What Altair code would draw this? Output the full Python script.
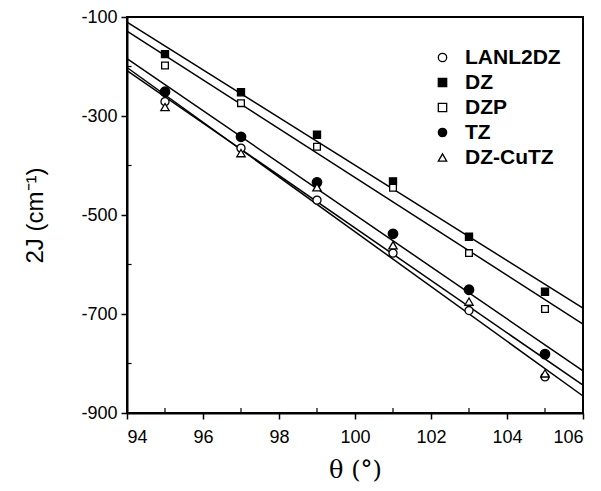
import altair as alt
import pandas as pd

theta = [95, 97, 99, 101, 103, 105]
series_names = ["LANL2DZ", "DZ", "DZP", "TZ", "DZ-CuTZ"]
lanl2dz = [-271, -365, -470, -577, -693, -827]
dz = [-175, -252, -338, -432, -544, -655]
dzp = [-198, -274, -362, -445, -577, -690]
tz = [-251, -342, -434, -538, -651, -781]
dzcutz = [-282, -375, -444, -561, -675, -820]

x_ticks = [94, 96, 98, 100, 102, 104, 106]
y_ticks = [-100, -300, -500, -700, -900]
x_minor = [95, 97, 99, 101, 103, 105]
y_minor = [-200, -400, -600, -800]

shapes = ["circle", "square", "square", "circle", "triangle-up"]
fills = ["white", "black", "white", "black", "white"]
strokes = ["black"] * 5
sizes = [65, 50, 45, 90, 70]

rows = []
for name, vals in zip(series_names, [lanl2dz, dz, dzp, tz, dzcutz]):
    for t, v in zip(theta, vals):
        rows.append({"series": name, "theta": t, "J": v})
df = pd.DataFrame(rows)

xs = alt.Scale(domain=[94, 106], nice=False, zero=False)
ys = alt.Scale(domain=[-900, -100], nice=False, zero=False)

x_axis = alt.Axis(values=x_ticks, title="θ  (°)", labelFontSize=18, labelFont="Liberation Sans",
                  labelColor="black", tickColor="black", tickSize=6, tickWidth=1.5,
                  domainColor="black", domainWidth=2, labelPadding=9, grid=False,
                  titleFontSize=24, titleFont="DejaVu Serif", titleFontWeight="normal",
                  titleColor="black", titleX=228, titleY=57, titleBaseline="middle")
y_axis = alt.Axis(values=y_ticks, title="2J  (cm⁻¹)", labelFontSize=18, labelFont="Liberation Sans",
                  labelExpr="replace(datum.label, '−', '-')",
                  labelColor="black", tickColor="black", tickSize=6, tickWidth=1.5,
                  domainColor="black", domainWidth=2, labelPadding=4, grid=False,
                  titleFontSize=24, titleFont="Liberation Sans", titleFontWeight="normal",
                  titleColor="black", titleX=-92, titleY=198, titleAngle=270,
                  titleBaseline="middle", titleAlign="center")

base = alt.Chart(df)

lines = base.transform_regression(
    "theta", "J", groupby=["series"], extent=[94, 106]
).mark_line(color="black", strokeWidth=1.5).encode(
    x=alt.X("theta:Q", scale=xs, axis=x_axis),
    y=alt.Y("J:Q", scale=ys, axis=y_axis),
    detail="series:N",
)

idx_expr = "indexof(" + str(series_names).replace("'", '"') + ", datum.series)"

points = base.transform_calculate(idx=idx_expr).mark_point(
    filled=True, strokeWidth=1.3, opacity=1
).encode(
    x=alt.X("theta:Q", scale=xs),
    y=alt.Y("J:Q", scale=ys),
    shape=alt.Shape("series:N", scale=alt.Scale(domain=series_names, range=shapes),
                    legend=alt.Legend(title=None)),
    fill=alt.Fill("series:N", scale=alt.Scale(domain=series_names, range=fills),
                  legend=alt.Legend(title=None)),
    stroke=alt.Stroke("series:N", scale=alt.Scale(domain=series_names, range=strokes),
                      legend=alt.Legend(title=None)),
    size=alt.Size("idx:Q", scale=alt.Scale(type="threshold", domain=[0.5, 1.5, 2.5, 3.5],
                                           range=sizes), legend=None),
)

ymin_df = pd.DataFrame({"v": y_minor})
xmin_df = pd.DataFrame({"v": x_minor})
ytick_minor = alt.Chart(ymin_df).mark_rule(color="black", strokeWidth=1.2).encode(
    y=alt.Y("v:Q", scale=ys),
    x=alt.datum(94, scale=xs),
    x2=alt.datum(94.12),
)
xtick_minor = alt.Chart(xmin_df).mark_rule(color="black", strokeWidth=1.2).encode(
    x=alt.X("v:Q", scale=xs),
    y=alt.datum(-900, scale=ys),
    y2=alt.datum(-890),
)

chart = alt.layer(lines, points, ytick_minor, xtick_minor).properties(
    width=456, height=396,
    autosize=alt.AutoSizeParams(type="none"),
    padding={"left": 119, "top": 9, "right": 10, "bottom": 74},
).configure_view(
    stroke="black", strokeWidth=2
).configure_legend(
    orient="none", legendX=305, legendY=30,
    labelFontSize=21, labelFontWeight="bold", labelFont="Liberation Sans",
    labelColor="black", rowPadding=3, symbolSize=70,
    symbolStrokeWidth=1.3, labelOffset=12,
)

chart.save("out.html", embed_options={"renderer": "svg", "actions": False})
